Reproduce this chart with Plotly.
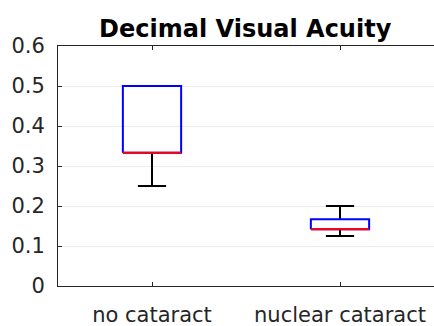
import plotly.graph_objects as go

# box statistics
groups = ["no cataract", "nuclear cataract"]
lower_whisker = [0.25, 0.125]
q1 = [0.333, 0.142]
median = [0.333, 0.142]
q3 = [0.5, 0.167]
upper_whisker = [0.5, 0.2]

half_box = 0.155
half_cap = 0.075

fig = go.Figure()

for i, name in enumerate(groups):
    x = i + 1
    # whiskers (black)
    if upper_whisker[i] > q3[i]:
        fig.add_trace(go.Scatter(x=[x, x, None, x - half_cap, x + half_cap],
                                 y=[q3[i], upper_whisker[i], None, upper_whisker[i], upper_whisker[i]],
                                 mode='lines', line=dict(color='black', width=2), showlegend=False))
    if lower_whisker[i] < q1[i]:
        fig.add_trace(go.Scatter(x=[x, x, None, x - half_cap, x + half_cap],
                                 y=[q1[i], lower_whisker[i], None, lower_whisker[i], lower_whisker[i]],
                                 mode='lines', line=dict(color='black', width=2), showlegend=False))
    # box (blue)
    fig.add_trace(go.Scatter(x=[x - half_box, x + half_box, x + half_box, x - half_box, x - half_box],
                             y=[q1[i], q1[i], q3[i], q3[i], q1[i]],
                             mode='lines', line=dict(color='blue', width=2), showlegend=False))
    # median (red)
    fig.add_trace(go.Scatter(x=[x - half_box, x + half_box], y=[median[i], median[i]],
                             mode='lines', line=dict(color='red', width=2), showlegend=False))

fig.update_layout(
    width=434, height=326,
    margin=dict(l=58, r=0, t=46, b=40, autoexpand=False),
    plot_bgcolor='white', paper_bgcolor='white',
    font=dict(family='DejaVu Sans', size=21, color='#262626'),
    title=dict(text='<b>Decimal Visual Acuity</b>', x=0.565, xanchor='center', y=0.912, yanchor='middle',
               font=dict(size=24, color='black')),
)
fig.update_xaxes(range=[0.5, 2.5], tickvals=[1, 2], ticktext=groups, automargin=False,
                 showline=True, linecolor='#262626', linewidth=1, mirror='ticks',
                 ticks='inside', ticklen=4, tickcolor='#262626',
                 showgrid=False, zeroline=False, ticklabelstandoff=10)
fig.update_yaxes(range=[0, 0.6], tickvals=[0, 0.1, 0.2, 0.3, 0.4, 0.5, 0.6],
                 ticktext=['0', '0.1', '0.2', '0.3', '0.4', '0.5', '0.6'], automargin=False,
                 showline=True, linecolor='#262626', linewidth=1, mirror=False,
                 ticks='inside', ticklen=4, tickcolor='#262626',
                 showgrid=True, gridcolor='#ebebeb', gridwidth=1, zeroline=False,
                 ticklabelstandoff=8)

# drop the page's default body margin so the figure sits at the window corner
fig.write_html("out.html", config={'displayModeBar': False},
               post_script="document.body.style.margin='0';")
